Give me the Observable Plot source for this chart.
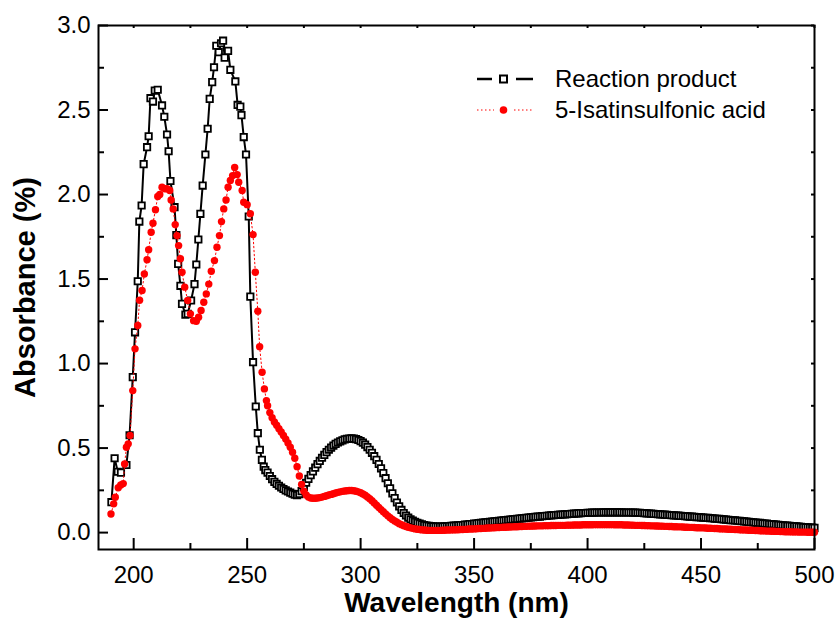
<!DOCTYPE html>
<html><head><meta charset="utf-8">
<script src="https://cdn.jsdelivr.net/npm/d3@7"></script>
<script src="https://cdn.jsdelivr.net/npm/@observablehq/plot@0.6"></script>
<style>
body{margin:0;background:#fff;}
#wrap{position:relative;width:838px;height:618px;overflow:hidden;font-family:"Liberation Sans",Arial,sans-serif;}
#legend{position:absolute;left:0;top:0;pointer-events:none;}
</style></head><body><div id="wrap"></div>
<script>
// ticks
const xMajor = [200, 250, 300, 350, 400, 450, 500];
const xMinor = [225, 275, 325, 375, 425, 475];
const yMajor = [0, 0.5, 1.0, 1.5, 2.0, 2.5, 3.0];
const yMinor = [0.25, 0.75, 1.25, 1.75, 2.25, 2.75];

// Reaction product — sparse (steep) part
const rpSparseWl = [190.2,191.6,193.0,194.4,196.8,198.2,199.6,200.6,201.8,202.5,203.5,204.4,205.9,206.6,207.4,208.5,209.3,210.6,212.5,213.5,214.7,215.4,216.2,218.0,218.8,219.6,220.6,221.3,222.8,223.8,225.3,226.8,227.6,228.5,229.4,230.4,231.6,232.6,233.5,234.6,235.4,236.4,237.5,238.5,239.4,240.1,241.6,242.6,244.8,245.8,247.0,247.5,248.5,249.5,250.7,251.4,252.6,253.8,254.7,255.6,256.5,257.3];
const rpSparseAbs = [0.18,0.44,0.36,0.355,0.40,0.576,0.92,1.185,1.487,1.84,1.935,2.18,2.28,2.345,2.57,2.55,2.615,2.62,2.527,2.46,2.355,2.256,2.08,1.925,1.76,1.59,1.46,1.353,1.29,1.294,1.373,1.47,1.586,1.734,1.886,2.053,2.237,2.389,2.566,2.665,2.753,2.88,2.842,2.895,2.91,2.81,2.85,2.738,2.669,2.53,2.52,2.47,2.34,2.237,1.87,1.396,1.008,0.746,0.588,0.49,0.43,0.39];
// Reaction product — 1 nm steps, 258..500 nm
const rpDenseStart = 258;
const rpDenseAbs = [
0.370,0.355,0.335,0.316,0.300,0.288,0.277,0.267,0.258,0.250,
0.243,0.236,0.230,0.225,0.222,0.228,0.245,0.270,0.295,0.318,
0.340,0.362,0.384,0.405,0.424,0.443,0.460,0.476,0.490,0.503,
0.515,0.525,0.533,0.540,0.546,0.551,0.554,0.556,0.557,0.556,
0.553,0.548,0.541,0.532,0.520,0.506,0.490,0.472,0.452,0.430,
0.406,0.380,0.352,0.322,0.292,0.262,0.232,0.204,0.178,0.155,
0.134,0.116,0.101,0.089,0.079,0.071,0.064,0.058,0.053,0.049,
0.045,0.042,0.040,0.038,0.037,0.036,0.036,0.036,0.036,0.037,
0.038,0.039,0.040,0.041,0.042,0.043,0.044,0.045,0.047,0.048,
0.050,0.051,0.053,0.054,0.056,0.057,0.059,0.060,0.062,0.063,
0.065,0.066,0.068,0.069,0.071,0.072,0.074,0.075,0.077,0.078,
0.080,0.081,0.083,0.084,0.086,0.087,0.089,0.090,0.092,0.093,
0.094,0.095,0.097,0.098,0.099,0.101,0.102,0.103,0.104,0.105,
0.106,0.107,0.108,0.109,0.110,0.111,0.112,0.113,0.114,0.115,
0.116,0.116,0.117,0.117,0.118,0.118,0.119,0.119,0.119,0.120,
0.120,0.120,0.120,0.120,0.120,0.120,0.120,0.120,0.119,0.119,
0.119,0.119,0.118,0.118,0.117,0.117,0.116,0.115,0.114,0.113,
0.112,0.111,0.110,0.109,0.108,0.107,0.106,0.105,0.104,0.103,
0.102,0.101,0.100,0.099,0.098,0.097,0.096,0.095,0.094,0.093,
0.092,0.091,0.090,0.089,0.088,0.087,0.086,0.085,0.083,0.082,
0.081,0.080,0.078,0.077,0.076,0.074,0.073,0.072,0.070,0.069,
0.068,0.066,0.065,0.063,0.062,0.061,0.059,0.058,0.057,0.055,
0.054,0.053,0.051,0.050,0.049,0.047,0.046,0.045,0.043,0.042,
0.041,0.040,0.039,0.038,0.037,0.035,0.034,0.033,0.032,0.031,
0.030,0.029,0.028];

// 5-Isatinsulfonic acid — sparse part
const isaSparseWl = [190.0,191.2,191.9,193.2,194.3,195.4,196.0,196.8,197.6,198.4,199.6,200.6,201.8,202.6,203.7,204.7,205.9,206.6,207.7,208.5,209.6,210.6,211.5,212.5,213.7,214.7,215.9,216.5,217.4,218.3,219.1,219.8,220.6,221.3,222.5,223.8,225.0,226.4,227.6,228.6,229.7,230.9,232.0,233.1,234.2,235.6,236.7,237.8,238.7,239.7,240.7,241.6,242.6,243.6,244.5,245.6,246.3,247.8,248.5,250.0,251.4,252.6,253.6,254.7,255.5,256.6,257.6,258.5];
const isaSparseAbs = [0.11,0.17,0.209,0.265,0.282,0.29,0.406,0.505,0.525,0.574,0.84,1.087,1.225,1.375,1.432,1.53,1.614,1.673,1.777,1.83,1.91,1.988,2.0,2.043,2.034,2.034,2.024,1.968,1.915,1.822,1.757,1.698,1.62,1.54,1.452,1.373,1.294,1.254,1.25,1.274,1.314,1.363,1.412,1.47,1.546,1.609,1.688,1.757,1.84,1.915,1.968,2.043,2.083,2.112,2.16,2.118,2.073,2.024,1.954,1.94,1.886,1.763,1.54,1.31,1.10,0.949,0.85,0.781];
// 5-Isatinsulfonic acid — 1 nm steps, 259..500 nm
const isaDenseStart = 259;
const isaDenseAbs = [
0.750,0.710,0.680,0.655,0.635,0.615,0.595,0.575,0.553,0.530,
0.505,0.475,0.440,0.390,0.335,0.285,0.245,0.222,0.210,0.205,
0.203,0.203,0.205,0.207,0.210,0.214,0.218,0.222,0.226,0.230,
0.234,0.238,0.241,0.244,0.246,0.248,0.249,0.249,0.248,0.245,
0.241,0.236,0.229,0.221,0.211,0.200,0.188,0.175,0.162,0.149,
0.136,0.123,0.111,0.099,0.088,0.078,0.069,0.061,0.053,0.047,
0.041,0.036,0.032,0.028,0.025,0.022,0.020,0.018,0.016,0.015,
0.014,0.013,0.013,0.013,0.013,0.013,0.013,0.014,0.014,0.015,
0.015,0.016,0.016,0.017,0.017,0.018,0.018,0.019,0.020,0.021,
0.021,0.022,0.023,0.024,0.024,0.025,0.026,0.027,0.027,0.028,
0.029,0.030,0.030,0.031,0.032,0.032,0.033,0.033,0.034,0.035,
0.035,0.036,0.036,0.037,0.037,0.038,0.038,0.039,0.039,0.040,
0.040,0.040,0.041,0.041,0.041,0.042,0.042,0.042,0.043,0.043,
0.043,0.043,0.044,0.044,0.044,0.045,0.045,0.045,0.045,0.046,
0.046,0.046,0.046,0.046,0.047,0.047,0.047,0.047,0.047,0.047,
0.047,0.047,0.047,0.046,0.046,0.046,0.046,0.045,0.045,0.045,
0.044,0.044,0.043,0.043,0.043,0.042,0.042,0.041,0.041,0.040,
0.040,0.039,0.039,0.038,0.038,0.037,0.037,0.036,0.036,0.035,
0.035,0.034,0.034,0.033,0.032,0.032,0.031,0.031,0.030,0.029,
0.029,0.028,0.028,0.027,0.026,0.026,0.025,0.024,0.024,0.023,
0.022,0.022,0.021,0.020,0.020,0.019,0.018,0.018,0.017,0.016,
0.016,0.015,0.014,0.014,0.013,0.012,0.012,0.011,0.010,0.010,
0.009,0.009,0.008,0.008,0.007,0.007,0.006,0.006,0.005,0.005,
0.005,0.004,0.004,0.004,0.003,0.003,0.003,0.003,0.002,0.002,
0.002,0.002];

const seriesNames = ["Reaction product", "5-Isatinsulfonic acid"];

function build(sWl, sAbs, dStart, dAbs) {
  const out = sWl.map((w, i) => ({wl: w, abs: sAbs[i]}));
  dAbs.forEach((a, i) => out.push({wl: dStart + i, abs: a}));
  return out;
}
const rp = build(rpSparseWl, rpSparseAbs, rpDenseStart, rpDenseAbs);
const isa = build(isaSparseWl, isaSparseAbs, isaDenseStart, isaDenseAbs);

const W = 838, H = 618, mL = 98, mR = 24, mT = 25, mB = 69;
const fw = W - mL - mR, fh = H - mT - mB;

const chart = Plot.plot({
  width: W, height: H,
  marginLeft: mL, marginRight: mR, marginTop: mT, marginBottom: mB,
  style: {fontFamily: '"Liberation Sans", Arial, sans-serif', fontSize: "24px", background: "white", color: "black"},
  x: {domain: [184.5, 500]},
  y: {domain: [-0.1, 3.0]},
  marks: [
    // ticks (inward, mirrored)
    Plot.ruleX(xMajor, {x: d => d, insetTop: fh - 11, stroke: "black", strokeWidth: 2}),
    Plot.ruleX(xMinor, {x: d => d, insetTop: fh - 6, stroke: "black", strokeWidth: 2}),
    Plot.ruleX(xMajor.concat(xMinor), {x: d => d, insetBottom: fh - 3, stroke: "black", strokeWidth: 2}),
    Plot.ruleY(yMajor, {y: d => d, insetRight: fw - 10, stroke: "black", strokeWidth: 2}),
    Plot.ruleY(yMinor, {y: d => d, insetRight: fw - 6, stroke: "black", strokeWidth: 2}),
    Plot.ruleY(yMajor.concat(yMinor), {y: d => d, insetLeft: fw - 3, stroke: "black", strokeWidth: 2}),
    Plot.axisX(xMajor, {tickSize: 0, tickPadding: 16, fontSize: 24, tickFormat: d => String(d), label: null}),
    Plot.axisY(yMajor, {tickSize: 0, tickPadding: 8, fontSize: 24, tickFormat: d3.format(".1f"), label: null}),
    Plot.text(["Wavelength (nm)"], {text: d => d, frameAnchor: "bottom", lineAnchor: "middle", textAnchor: "middle", dy: 53.5, fontSize: 28, fontWeight: "bold", fill: "black"}),
    Plot.text(["Absorbance (%)"], {text: d => d, frameAnchor: "left", lineAnchor: "middle", textAnchor: "middle", rotate: -90, dx: -73, fontSize: 29, fontWeight: "bold", fill: "black"}),
    // series
    Plot.line(rp, {x: "wl", y: "abs", stroke: "black", strokeWidth: 2}),
    Plot.dot(rp, {x: "wl", y: "abs", symbol: "square", r: 3.6, fill: "white", stroke: "black", strokeWidth: 1.8}),
    Plot.line(isa, {x: "wl", y: "abs", stroke: "#ff0000", strokeWidth: 1, strokeDasharray: "1.5,2.5"}),
    Plot.dot(isa, {x: "wl", y: "abs", r: 3.7, fill: "#ff0000"}),
    Plot.frame({stroke: "black", strokeWidth: 2})
  ]
});
const wrap = document.getElementById("wrap");
wrap.appendChild(chart);

// legend overlay
const ns = "http://www.w3.org/2000/svg";
const lg = document.createElementNS(ns, "svg");
lg.setAttribute("id", "legend");
lg.setAttribute("width", W); lg.setAttribute("height", H);
lg.innerHTML = `
  <g>
    <line x1="477" x2="492" y1="79" y2="79" stroke="black" stroke-width="2.5"/>
    <line x1="516" x2="533" y1="79" y2="79" stroke="black" stroke-width="2.5"/>
    <rect x="500" y="75.5" width="7" height="7" fill="white" stroke="black" stroke-width="2"/>
    <text x="555" y="87" font-size="24" font-family="Liberation Sans, Arial, sans-serif">${seriesNames[0]}</text>
    <line x1="477" x2="494" y1="110" y2="110" stroke="#ff0000" stroke-width="1" stroke-dasharray="1.5,2.5"/>
    <line x1="514" x2="533" y1="110" y2="110" stroke="#ff0000" stroke-width="1" stroke-dasharray="1.5,2.5"/>
    <circle cx="503.5" cy="110" r="3.8" fill="#ff0000"/>
    <text x="555" y="118" font-size="24" font-family="Liberation Sans, Arial, sans-serif">${seriesNames[1]}</text>
  </g>`;
wrap.appendChild(lg);
</script>
</body></html>
